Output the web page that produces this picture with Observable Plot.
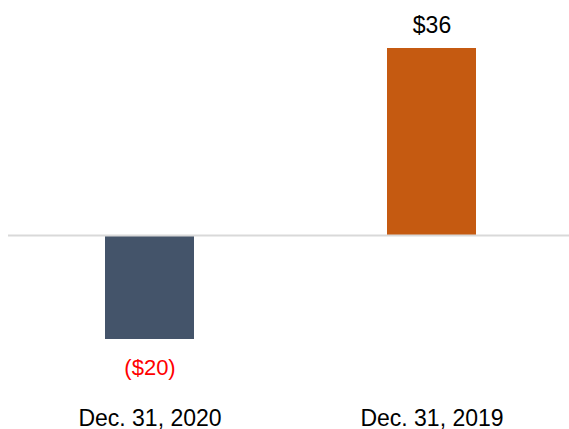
<!DOCTYPE html>
<html>
<head>
<meta charset="utf-8">
<script src="https://cdn.jsdelivr.net/npm/d3@7"></script>
<script src="https://cdn.jsdelivr.net/npm/@observablehq/plot@0.6"></script>
<style>
  html, body { margin: 0; padding: 0; background: #fff; }
  #chart svg { display: block; }
</style>
</head>
<body>
<div id="chart"></div>
<script>
const categories = ["Dec. 31, 2020", "Dec. 31, 2019"];
const values = [-20, 36];
const valueLabels = ["($20)", "$36"];
const barColors = ["#44546a", "#c55a11"];
const labelColors = ["#ff0000", "#000000"];

const data = categories.map((c, i) => ({
  category: c, value: values[i], label: valueLabels[i],
  color: barColors[i], labelColor: labelColors[i]
}));
const pos = data.filter(d => d.value >= 0);
const neg = data.filter(d => d.value < 0);

const font = "'Liberation Sans', Arial, Helvetica, sans-serif";

const chart = Plot.plot({
  width: 569,
  height: 429,
  marginLeft: 8,
  marginRight: 0,
  marginTop: 48,
  marginBottom: 90,
  style: { fontFamily: font, fontSize: "23px", background: "#fff", color: "#000", overflow: "visible" },
  x: { domain: categories, paddingInner: 0.685, paddingOuter: 0.3355, align: 0.512, label: null },
  y: { domain: [d3.min(values), d3.max(values)], axis: null },
  marks: [
    Plot.barY(data, { x: "category", y: "value", fill: d => d.color }),
    Plot.ruleY([0], { stroke: "#d9d9d9", strokeWidth: 2 }),
    Plot.text(pos, { x: "category", y: "value", text: "label", fill: d => d.labelColor,
      lineAnchor: "middle", dy: -23, fontSize: 23 }),
    Plot.text(neg, { x: "category", y: "value", text: "label", fill: d => d.labelColor,
      lineAnchor: "middle", dy: 28, fontSize: 22 }),
    Plot.axisX({ tickSize: 0, tickPadding: 70, fontSize: 23, label: null })
  ]
});
document.getElementById("chart").appendChild(chart);
</script>
</body>
</html>
